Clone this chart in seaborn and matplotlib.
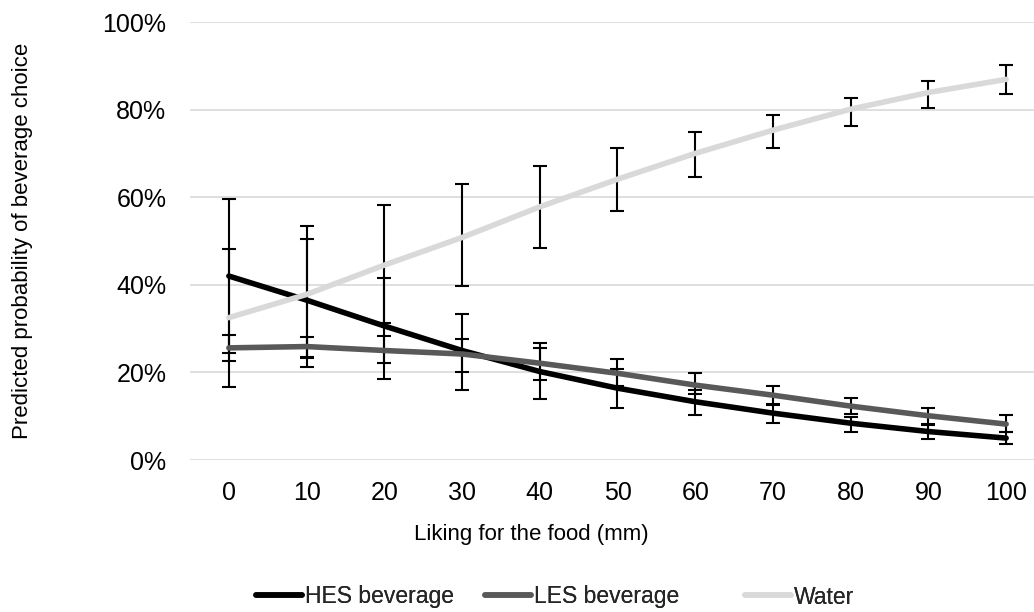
import matplotlib
matplotlib.use("Agg")
import matplotlib.pyplot as plt
import seaborn as sns
import pandas as pd
from matplotlib.ticker import FuncFormatter
from matplotlib.lines import Line2D

# Liking for the food (mm)
liking = [0, 10, 20, 30, 40, 50, 60, 70, 80, 90, 100]

# Predicted probability (%) with confidence limits
hes = [42.0, 36.5, 30.6, 25.0, 20.2, 16.4, 13.3, 10.7, 8.4, 6.5, 5.0]
hes_lo = [24.5, 21.2, 18.5, 16.0, 13.9, 11.9, 10.2, 8.4, 6.5, 4.9, 3.6]
hes_hi = [59.5, 50.4, 41.5, 33.4, 26.6, 20.8, 16.0, 12.8, 9.9, 8.0, 6.3]

les = [25.6, 25.9, 25.0, 24.2, 22.1, 19.8, 17.1, 14.8, 12.3, 10.1, 8.2]
les_lo = [22.7, 23.6, 22.2, 20.2, 18.3, 16.8, 15.1, 12.5, 10.4, 8.2, 6.3]
les_hi = [28.5, 28.1, 28.3, 27.6, 25.6, 23.0, 19.8, 16.9, 14.2, 11.9, 10.2]

water = [32.5, 37.8, 44.5, 50.8, 57.8, 64.1, 70.0, 75.3, 80.1, 83.9, 86.9]
water_lo = [16.6, 23.4, 31.2, 39.7, 48.3, 56.8, 64.5, 71.2, 76.3, 80.3, 83.6]
water_hi = [48.1, 53.4, 58.2, 63.0, 67.1, 71.2, 74.9, 78.8, 82.6, 86.6, 90.2]

series_names = ["HES beverage", "LES beverage", "Water"]
series_colors = ["#000000", "#595959", "#d9d9d9"]

sns.set_theme(style="white")
plt.rcParams["font.family"] = ["Liberation Sans", "DejaVu Sans"]

fig = plt.figure(figsize=(10.34, 6.12), dpi=100)
W, H = 1034, 612
ax = fig.add_axes([190 / W, (H - 460) / H, (1045 - 190) / W, (460 - 22) / H])

frames = []
for name, vals in zip(series_names, [hes, les, water]):
    frames.append(pd.DataFrame({"liking": liking, "prob": vals, "series": name}))
df = pd.concat(frames, ignore_index=True)

bounds = {
    "HES beverage": (hes, hes_lo, hes_hi),
    "LES beverage": (les, les_lo, les_hi),
    "Water": (water, water_lo, water_hi),
}

# error bars of each series sit just beneath that series' line
for i, name in enumerate(series_names):
    mid, lo, hi = bounds[name]
    yerr = [[m - l for m, l in zip(mid, lo)], [h - m for m, h in zip(mid, hi)]]
    ax.errorbar(liking, mid, yerr=yerr, fmt="none", ecolor="black",
                elinewidth=1.5, capsize=5.2, capthick=1.5, zorder=3 + 2 * i)

sns.lineplot(data=df, x="liking", y="prob", hue="series", hue_order=series_names,
             palette=series_colors, linewidth=4, ax=ax, legend=False, sort=False)
for i, line in enumerate(ax.get_lines()):
    line.set_zorder(4 + 2 * i)
    line.set_solid_capstyle("round")

ax.set_xlim(-5, 105)
ax.set_ylim(0, 100)
ax.set_xticks(liking)
ax.set_yticks(range(0, 101, 20))
ax.yaxis.set_major_formatter(FuncFormatter(lambda v, p: f"{int(v)}%"))
ax.grid(axis="y", color="#d9d9d9", linewidth=1.2)
ax.grid(axis="x", visible=False)
ax.set_axisbelow(True)
for s in ax.spines.values():
    s.set_visible(False)
ax.tick_params(axis="both", length=0, labelsize=18, colors="black")
ax.tick_params(axis="y", pad=17)
ax.tick_params(axis="x", pad=15)

ax.set_xlabel("Liking for the food (mm)", fontsize=16, color="black", labelpad=14)
ax.xaxis.label.set_x((531 - 190) / (1045 - 190))
ax.set_ylabel("Predicted probability of beverage choice", fontsize=16, color="black")
ax.yaxis.set_label_coords((33 - 190) / (1045 - 190), 0.5)

# one legend entry per series, laid out along the bottom
legend_left = [256, 485, 745]
for name, color, x0 in zip(series_names, series_colors, legend_left):
    h = Line2D([0], [0], color=color, linewidth=4, solid_capstyle="round")
    leg = fig.legend([h], [name], loc="center left",
                     bbox_to_anchor=(x0 / W, 1 - 597 / H), frameon=False,
                     fontsize=16.5, handlelength=2.0, handletextpad=0.12,
                     borderpad=0, borderaxespad=0)
    fig.add_artist(leg)

fig.savefig("out.png", dpi=100, facecolor="white")
